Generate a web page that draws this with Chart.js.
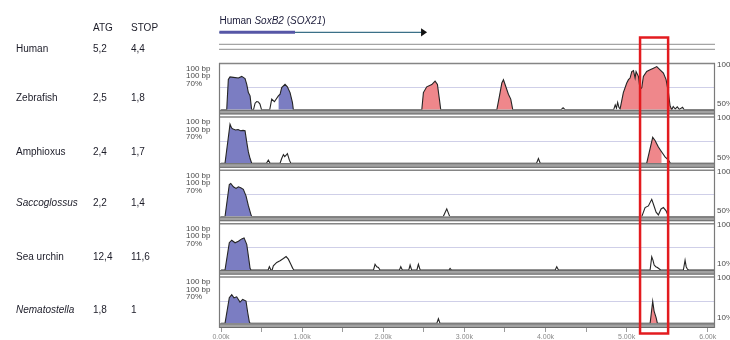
<!DOCTYPE html>
<html><head><meta charset="utf-8">
<script src="https://cdn.jsdelivr.net/npm/chart.js@4.4.1/dist/chart.umd.min.js"></script>
<style>
html,body{margin:0;padding:0;background:#fff;}
#wrap{position:relative;width:730px;height:340px;overflow:hidden;font-family:'Liberation Sans',Arial,sans-serif;}
canvas{position:absolute;left:0;top:0;}
.t{position:absolute;font-size:10px;color:#1c1c28;white-space:nowrap;line-height:12px;}
</style></head><body>
<div id="wrap"><canvas id="c" width="730" height="340"></canvas><div id="table"></div></div>
<script>
// ---------- table ----------
const tableSpecies = ['Human', 'Zebrafish', 'Amphioxus', 'Saccoglossus', 'Sea urchin', 'Nematostella'];
const atgValues   = ['5,2', '2,5', '2,4', '2,2', '12,4', '1,8'];
const stopValues  = ['4,4', '1,8', '1,7', '1,4', '11,6', '1'];
const tableHeaders = ['ATG', 'STOP'];
const italicSpecies = ['Saccoglossus', 'Nematostella'];

// ---------- gene annotation (bp) ----------
const geneTitle = [['Human ', false], ['SoxB2', true], [' (', false], ['SOX21', true], [')', false]];
const geneStart = -20, geneCodingEnd = 912, geneEnd = 2540;
const highlightRange = [5166, 5512];

// ---------- x axis ----------
const seqMin = -25, seqMax = 6090;
const xTickValues = [0, 500, 1000, 1500, 2000, 2500, 3000, 3500, 4000, 4500, 5000, 5500, 6000];
const xTickLabels = ['0.00k', '1.00k', '2.00k', '3.00k', '4.00k', '5.00k', '6.00k'];

// ---------- conservation curves: [position bp, identity %] ----------
const zebrafishCurve = [[0,43],[70,43],[90,80],[111,83],[152,82.5],[214,81.7],[255,83.7],[296,81],[317,74],[337,64],[358,60],[378,43],[400,43],[420,51],[440,53],[460,52.5],[480,50],[500,43],[600,43],[625,56],[658,52.8],[707,60],[728,62],[748,70],[789,74],[818,71],[851,64],[880,52],[892,43],[2475,43],[2495,64],[2536,71],[2598,73.8],[2639,78],[2668,74],[2692,56],[2709,43],[3400,43],[3433,60],[3462,75.6],[3482,79.7],[3502,73.8],[3543,62],[3572,56],[3597,43],[4190,43],[4217,45.5],[4245,43],[4840,43],[4860,49],[4875,45],[4890,52],[4905,46],[4920,44],[4960,64],[5002,75.6],[5023,79.7],[5043,81.7],[5064,89.6],[5085,90.8],[5105,81.7],[5117,89.6],[5146,83.7],[5166,67.8],[5187,69.8],[5207,83.7],[5248,89.6],[5290,91.7],[5331,93.6],[5372,95.6],[5413,91.7],[5454,87.7],[5487,79.7],[5516,64],[5536,48],[5557,43],[5575,47],[5600,44],[5625,46.5],[5650,43.5],[5690,46],[5710,43],[6090,43]];
const zebrafishExon = [[70,378],[707,892]];
const zebrafishCns  = [[2475,2709],[3400,3597],[4920,5557]];

const amphioxusCurve = [[0,43],[49,43],[111,90.5],[130,86],[148,84.5],[180,83.5],[210,84],[240,82.5],[271,83],[296,82.5],[317,68.7],[337,56.7],[358,48.7],[378,43],[560,43],[583,46.7],[605,43],[728,43],[748,48.7],[769,53.5],[785,51],[802,52.7],[818,54.7],[843,46.7],[860,43],[3890,43],[3913,48.7],[3935,43],[5248,43],[5322,74.6],[5351,70.6],[5392,62.7],[5433,56.7],[5474,50.8],[5516,46.7],[5540,43],[6090,43]];
const amphioxusExon = [[49,378]];
const amphioxusCns  = [[5248,5433]];

const saccoglossusCurve = [[0,43],[49,43],[102,82.1],[120,83.3],[152,79.3],[185,77.4],[214,79.3],[243,78.1],[275,76.2],[308,68.2],[337,56.3],[366,46.4],[378,43],[2740,43],[2783,52.4],[2820,43],[5187,43],[5228,54],[5269,56],[5310,64],[5331,58],[5364,48.4],[5392,45],[5425,52.3],[5454,54],[5487,50],[5516,43],[6090,43]];
const saccoglossusExon = [[49,378]];
const saccoglossusCns  = [];

const seaUrchinCurve = [[0,43],[49,43],[102,76.2],[132,79.3],[173,76.2],[214,78.1],[255,80.9],[284,82.1],[317,74.2],[337,60.3],[358,45],[370,43],[580,43],[596,47],[615,43],[630,43],[645,48.2],[687,52.2],[728,54.2],[769,57],[802,59.4],[830,56.2],[859,50.2],[884,45],[900,43],[1880,43],[1899,50],[1920,47],[1940,46],[1960,43],[2200,43],[2216,47],[2235,43],[2315,43],[2331,49],[2350,43],[2415,43],[2433,50],[2455,43],[2810,43],[2824,45],[2840,43],[4120,43],[4139,47],[4160,43],[5290,43],[5310,59],[5325,55],[5340,49],[5360,47],[5380,46],[5400,44.5],[5420,43],[5700,43],[5721,55],[5735,47],[5750,44],[5765,43],[6090,43]];
const seaUrchinExon = [[49,370]];
const seaUrchinCns  = [];

const nematostellaCurve = [[0,43],[49,43],[102,74.2],[132,78.1],[160,74.2],[193,75.4],[234,69],[267,72.2],[308,70.2],[329,56.3],[349,45],[360,43],[2660,43],[2680,48.8],[2700,43],[5290,43],[5322,70],[5339,58],[5364,50],[5380,43],[6090,43]];
const nematostellaExon = [[49,360]];
const nematostellaCns  = [[5290,5380]];

const trackTopLabels = ['100%', '100%', '100%', '100%', '100%'];
const trackBottomLabels = ['50%', '50%', '50%', '10%', '10%'];
const trackLeftLabels = ['100 bp', '100 bp', '70%'];

// ---------- styles ----------
const EXON_COLOR = '#7b7dc2';
const CNS_COLOR = '#ef878b';
const FONT = "'Liberation Sans', Arial, sans-serif";

// ---------- table (HTML text) ----------
(function(){
  const t = document.getElementById('table');
  const rowsY = [49.3, 98.3, 152.3, 203.3, 256.7, 310];
  const add = (txt, x, y, italic) => {
    const d = document.createElement('div');
    d.className = 't'; d.textContent = txt;
    d.style.left = x + 'px'; d.style.top = (y - 6) + 'px';
    if (italic) d.style.fontStyle = 'italic';
    t.appendChild(d);
  };
  add(tableHeaders[0], 93, 27.7); add(tableHeaders[1], 131, 27.7);
  tableSpecies.forEach((s, i) => {
    add(s, 16, rowsY[i], italicSpecies.includes(s));
    add(atgValues[i], 93, rowsY[i]);
    add(stopValues[i], 131, rowsY[i]);
  });
})();

// ---------- chart ----------
const tracks = [
  [zebrafishCurve, zebrafishExon, zebrafishCns],
  [amphioxusCurve, amphioxusExon, amphioxusCns],
  [saccoglossusCurve, saccoglossusExon, saccoglossusCns],
  [seaUrchinCurve, seaUrchinExon, seaUrchinCns],
  [nematostellaCurve, nematostellaExon, nematostellaCns]
];
const toPts = arr => arr.map(([x, y]) => ({x, y}));
const datasets = [];
tracks.forEach(([curve, exon, cns], i) => {
  datasets.push({data: toPts(curve), yAxisID: 'y' + i, borderColor: '#252525', borderWidth: 1.1,
    pointRadius: 0, fill: false, tension: 0, order: 0});
  [[exon, EXON_COLOR], [cns, CNS_COLOR]].forEach(([ranges, col]) => {
    ranges.forEach(([a, b]) => {
      datasets.push({data: toPts(curve.filter(([x]) => x >= a && x <= b)), yAxisID: 'y' + i,
        borderWidth: 0, borderColor: col, backgroundColor: col, pointRadius: 0, fill: 'start', tension: 0, order: 1});
    });
  });
});

const scales = {
  x: {type: 'linear', position: 'bottom', min: seqMin, max: seqMax,
    afterBuildTicks: s => { s.ticks = xTickValues.map(v => ({value: v})); },
    afterFit: s => { s.height = 12; },
    grid: {display: true, drawOnChartArea: false, drawTicks: true, tickLength: 4, color: '#9a9a9a'},
    border: {display: false},
    ticks: {autoSkip: false, maxRotation: 0, padding: 1, color: '#8a8a8a', font: {size: 7, family: FONT},
      callback: v => (v % 1000 === 0 ? xTickLabels[v / 1000] : '')}
  }
};
const STACK_PLOT = 46.8, STACK_GAP = 6.6, STACK_LAST = 4.6;
tracks.forEach((_, i) => {
  scales['y' + i] = {type: 'linear', position: 'left', stack: 'tracks', stackWeight: STACK_PLOT, weight: 100 - 2 * i,
    min: 43, max: 100,
    afterBuildTicks: s => { s.ticks = [{value: 70}]; },
    afterFit: s => { s.width = 0; },
    grid: {display: true, color: '#cfcfe8', lineWidth: 1, drawTicks: false},
    border: {display: false}, ticks: {display: false}};
  scales['g' + i] = {type: 'linear', position: 'left', stack: 'tracks',
    stackWeight: i === tracks.length - 1 ? STACK_LAST : STACK_GAP, weight: 99 - 2 * i,
    min: 0, max: 1, afterFit: s => { s.width = 0; },
    grid: {display: false, drawTicks: false}, border: {display: false}, ticks: {display: false}};
});

const overlay = {
  id: 'overlay',
  afterDatasetsDraw(chart) {
    const ctx = chart.ctx, ca = chart.chartArea;
    ctx.save();
    tracks.forEach((_, i) => {
      const s = chart.scales['y' + i];
      const top = s.getPixelForValue(100), bot = s.bottom;
      ctx.fillStyle = '#a2a2a2';
      ctx.fillRect(ca.left, bot, ca.right - ca.left, 4.6);
      ctx.strokeStyle = '#6a6a6a'; ctx.lineWidth = 1;
      ctx.beginPath();
      ctx.moveTo(ca.left, bot + 0.5); ctx.lineTo(ca.right, bot + 0.5);
      ctx.moveTo(ca.left, bot + 4.1); ctx.lineTo(ca.right, bot + 4.1);
      ctx.stroke();
      ctx.strokeStyle = '#858585'; ctx.lineWidth = 1.5;
      ctx.beginPath(); ctx.moveTo(ca.left, top + 0.5); ctx.lineTo(ca.right, top + 0.5); ctx.stroke();
      // labels
      ctx.fillStyle = '#4a4a4a'; ctx.font = '8px ' + FONT; ctx.textBaseline = 'middle'; ctx.textAlign = 'left';
      trackLeftLabels.forEach((lab, k) => ctx.fillText(lab, 186, top + 5.5 + k * 7.5));
      ctx.fillText(trackTopLabels[i], ca.right + 2, top + 1.5);
      ctx.fillText(trackBottomLabels[i], ca.right + 2, s.getPixelForValue(50));
    });
    const firstTop = chart.scales.y0.getPixelForValue(100);
    ctx.strokeStyle = '#7a7a7a'; ctx.lineWidth = 1.2;
    ctx.beginPath();
    ctx.moveTo(ca.left + 0.5, firstTop); ctx.lineTo(ca.left + 0.5, ca.bottom);
    ctx.moveTo(ca.right - 0.5, firstTop); ctx.lineTo(ca.right - 0.5, ca.bottom);
    ctx.stroke();
    ctx.restore();
  },
  afterDraw(chart) {
    const ctx = chart.ctx, ca = chart.chartArea, xs = chart.scales.x;
    ctx.save();
    // gene title
    let tx = xs.getPixelForValue(geneStart);
    ctx.fillStyle = '#1c1c3a'; ctx.textBaseline = 'middle'; ctx.textAlign = 'left';
    geneTitle.forEach(([txt, it]) => {
      ctx.font = (it ? 'italic ' : '') + '10px ' + FONT;
      ctx.fillText(txt, tx, 21);
      tx += ctx.measureText(txt).width;
    });
    // gene line
    const g0 = xs.getPixelForValue(geneStart), g1 = xs.getPixelForValue(geneCodingEnd), g2 = xs.getPixelForValue(geneEnd);
    ctx.strokeStyle = '#3b7088'; ctx.lineWidth = 1.3;
    ctx.beginPath(); ctx.moveTo(g0, 32.3); ctx.lineTo(g2 - 5, 32.3); ctx.stroke();
    ctx.strokeStyle = '#5656a6'; ctx.lineWidth = 3;
    ctx.beginPath(); ctx.moveTo(g0, 32.3); ctx.lineTo(g1, 32.3); ctx.stroke();
    ctx.fillStyle = '#111';
    ctx.beginPath(); ctx.moveTo(g2 - 6, 28.3); ctx.lineTo(g2, 32.3); ctx.lineTo(g2 - 6, 36.5); ctx.closePath(); ctx.fill();
    // annotation lines
    ctx.strokeStyle = '#a5a5a5'; ctx.lineWidth = 1.2;
    ctx.beginPath();
    ctx.moveTo(ca.left, 44.3); ctx.lineTo(ca.right, 44.3);
    ctx.moveTo(ca.left, 49.3); ctx.lineTo(ca.right, 49.3);
    ctx.stroke();
    // highlight box
    const h0 = xs.getPixelForValue(highlightRange[0]), h1 = xs.getPixelForValue(highlightRange[1]);
    ctx.strokeStyle = '#e31b1f'; ctx.lineWidth = 2.5;
    ctx.strokeRect(h0, 37.5, h1 - h0, 296);
    ctx.restore();
  }
};

new Chart(document.getElementById('c'), {
  type: 'line',
  data: {datasets},
  options: {
    responsive: false, animation: false,
    layout: {padding: {left: 219, right: 15, top: 63, bottom: 0}},
    plugins: {legend: {display: false}, tooltip: {enabled: false}},
    scales
  },
  plugins: [overlay]
});
</script>
</body></html>
